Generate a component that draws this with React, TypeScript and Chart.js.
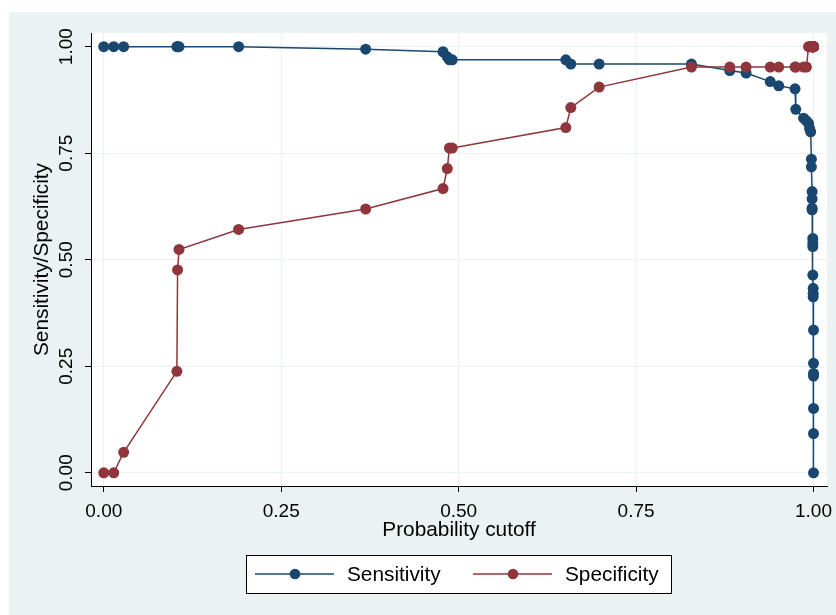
import React, { useEffect, useRef } from "react";
import { Chart, registerables } from "chart.js";

Chart.register(...registerables);

const cutoffs = [
  0, 0.014, 0.028, 0.103, 0.104, 0.106, 0.19, 0.369, 0.478, 0.484, 0.487, 0.491,
  0.651, 0.658, 0.698, 0.828, 0.882, 0.905, 0.939, 0.951, 0.974, 0.975, 0.986,
  0.99, 0.993, 0.9945, 0.996, 0.997, 0.997, 0.998, 0.998, 0.998, 0.998, 0.999,
  0.999, 0.999, 0.999, 0.9995, 0.9995, 0.9995, 1, 1, 1, 1, 1, 1, 1,
];
const sensitivity = [
  1, 1, 1, 1, 1, 1, 1, 0.994, 0.988, 0.976, 0.969, 0.969,
  0.969, 0.959, 0.959, 0.959, 0.944, 0.938, 0.918, 0.908, 0.901, 0.853, 0.832,
  0.826, 0.82, 0.808, 0.8, 0.736, 0.718, 0.66, 0.643, 0.621, 0.617, 0.55,
  0.539, 0.531, 0.464, 0.433, 0.421, 0.413, 0.335, 0.257, 0.233, 0.227, 0.151, 0.092, 0,
];
const specificity = [
  0, 0, 0.048, 0.238, 0.476, 0.524, 0.571, 0.619, 0.667, 0.714, 0.762, 0.762,
  0.81, 0.857, 0.905, 0.952, 0.952, 0.952, 0.952, 0.952, 0.952, 0.952, 0.952,
  0.952, 1, 1, 1, 1, 1, 1, 1, 1, 1, 1,
  1, 1, 1, 1, 1, 1, 1, 1, 1, 1, 1, 1, 1,
];
const tickValues = [0, 0.25, 0.5, 0.75, 1];
const seriesLabels = ["Sensitivity", "Specificity"];
const seriesColors = ["#1A476F", "#90353B"];
const xTitle = "Probability cutoff";
const yTitle = "Sensitivity/Specificity";

const BG = "#EAF2F3";
const FONT = "'Liberation Sans', Arial, Helvetica, sans-serif";

const backgroundPlugin = {
  id: "stataBg",
  beforeDraw(chart: any) {
    const { ctx, chartArea, width, height } = chart;
    ctx.save();
    ctx.fillStyle = "#ffffff";
    ctx.fillRect(0, 0, width, height);
    ctx.fillStyle = BG;
    ctx.fillRect(9, 12, width - 9, height - 12);
    ctx.fillStyle = "#ffffff";
    ctx.fillRect(chartArea.left, chartArea.top, chartArea.right - chartArea.left, chartArea.bottom - chartArea.top);
    ctx.restore();
  },
};

const overlayPlugin = {
  id: "stataOverlay",
  afterDraw(chart: any) {
    const { ctx } = chart;
    const yScale = chart.scales.y;
    ctx.save();
    // rotated y tick labels
    ctx.fillStyle = "#000";
    ctx.font = `19px ${FONT}`;
    ctx.textAlign = "center";
    ctx.textBaseline = "middle";
    for (const v of tickValues) {
      const py = yScale.getPixelForValue(v);
      ctx.save();
      ctx.translate(67, py);
      ctx.rotate(-Math.PI / 2);
      ctx.fillText(v.toFixed(2), 0, 0);
      ctx.restore();
    }
    // legend
    const bx = 246.5, by = 555.5, bw = 425, bh = 38;
    ctx.fillStyle = "#ffffff";
    ctx.fillRect(bx, by, bw, bh);
    ctx.strokeStyle = "#000";
    ctx.lineWidth = 1;
    ctx.strokeRect(bx, by, bw, bh);
    const items = chart.data.datasets.map((d: any) => ({ label: d.label, color: d.borderColor }));
    const starts = [255, 473];
    items.forEach((it: any, i: number) => {
      const x0 = starts[i];
      const yy = 574;
      ctx.strokeStyle = it.color;
      ctx.lineWidth = 1.5;
      ctx.beginPath();
      ctx.moveTo(x0, yy);
      ctx.lineTo(x0 + 79, yy);
      ctx.stroke();
      ctx.fillStyle = it.color;
      ctx.beginPath();
      ctx.arc(x0 + 40, yy, 5.3, 0, Math.PI * 2);
      ctx.fill();
      ctx.fillStyle = "#000";
      ctx.font = `20.8px ${FONT}`;
      ctx.textAlign = "left";
      ctx.textBaseline = "middle";
      ctx.fillText(it.label, x0 + 92, yy + 1);
    });
    ctx.restore();
  },
};

export default function App() {
  const ref = useRef<HTMLCanvasElement | null>(null);
  useEffect(() => {
    if (!ref.current) return;
    const mk = (vals: number[]) => cutoffs.map((c, i) => ({ x: c, y: vals[i] }));
    const chart = new Chart(ref.current, {
      type: "line",
      data: {
        datasets: [
          {
            label: seriesLabels[0],
            data: mk(sensitivity),
            borderColor: seriesColors[0],
            backgroundColor: seriesColors[0],
            pointBackgroundColor: seriesColors[0],
            borderWidth: 1.5,
            pointRadius: 5.5,
            pointBorderWidth: 0,
            tension: 0,
            order: 1,
            clip: false as any,
          },
          {
            label: seriesLabels[1],
            data: mk(specificity),
            borderColor: seriesColors[1],
            backgroundColor: seriesColors[1],
            pointBackgroundColor: seriesColors[1],
            borderWidth: 1.5,
            pointRadius: 5.5,
            pointBorderWidth: 0,
            tension: 0,
            order: 0,
            clip: false as any,
          },
        ],
      },
      options: {
        animation: false,
        responsive: false,
        devicePixelRatio: 1,
        layout: { padding: { top: 33, right: 9, left: 0, bottom: 0 } },
        plugins: { legend: { display: false }, tooltip: { enabled: false } },
        scales: {
          x: {
            type: "linear",
            min: -0.018,
            max: 1.019,
            afterBuildTicks: (s: any) => { s.ticks = tickValues.map((v) => ({ value: v })); },
            afterFit: (s: any) => {
              s.height = 129;
              s.paddingLeft = 0; s.paddingRight = 0; s.paddingTop = 0; s.paddingBottom = 0;
            },
            grid: { color: BG, lineWidth: 1, tickColor: "#000", tickLength: 6, drawTicks: true },
            border: { color: "#000", width: 1 },
            ticks: {
              color: "#000",
              padding: 8,
              maxRotation: 0,
              font: { family: FONT, size: 19 },
              callback: (v: any) => Number(v).toFixed(2),
            },
            title: {
              display: true,
              text: xTitle,
              color: "#000",
              font: { family: FONT, size: 20.8 },
              padding: { top: 0, bottom: 72 },
            },
          },
          y: {
            type: "linear",
            min: -0.031,
            max: 1.032,
            afterBuildTicks: (s: any) => { s.ticks = tickValues.map((v) => ({ value: v })); },
            afterFit: (s: any) => {
              s.width = 91;
              s.paddingLeft = 0; s.paddingRight = 0; s.paddingTop = 0; s.paddingBottom = 0;
            },
            grid: { color: BG, lineWidth: 1, tickColor: "#000", tickLength: 6, drawTicks: true },
            border: { color: "#000", width: 1 },
            ticks: {
              color: "rgba(0,0,0,0)",
              font: { family: FONT, size: 19 },
              callback: (v: any) => Number(v).toFixed(2),
            },
            title: {
              display: true,
              text: yTitle,
              color: "#000",
              font: { family: FONT, size: 20.8 },
              padding: { top: 30, bottom: 0 },
            },
          },
        },
      },
      plugins: [backgroundPlugin, overlayPlugin],
    });
    return () => chart.destroy();
  }, []);
  return (
    <div style={{ position: "absolute", left: 0, top: 0, width: 836, height: 615 }}>
      <canvas ref={ref} width={836} height={615} style={{ display: "block" }} />
    </div>
  );
}
